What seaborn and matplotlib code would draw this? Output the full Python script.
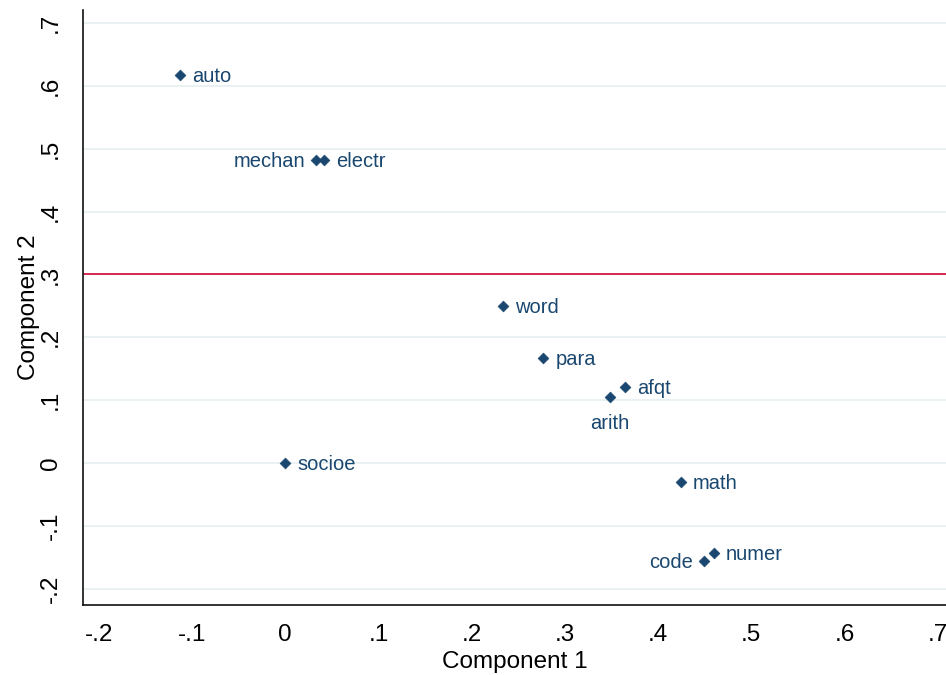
import matplotlib
matplotlib.use("Agg")
import matplotlib.pyplot as plt
import seaborn as sns
import pandas as pd

# Data
variables = ["auto", "mechan", "electr", "word", "para", "afqt", "arith", "socioe", "math", "numer", "code"]
comp1 = [-0.113, 0.033, 0.042, 0.234, 0.277, 0.365, 0.348, 0.000, 0.425, 0.460, 0.449]
comp2 = [0.617, 0.482, 0.482, 0.250, 0.167, 0.121, 0.105, 0.000, -0.030, -0.143, -0.156]
label_pos = ["right", "left", "right", "right", "right", "right", "below", "right", "right", "right", "left"]
ref_line = 0.3
tick_vals = [-0.2, -0.1, 0, 0.1, 0.2, 0.3, 0.4, 0.5, 0.6, 0.7]
tick_labels = ["-.2", "-.1", "0", ".1", ".2", ".3", ".4", ".5", ".6", ".7"]

df = pd.DataFrame({"var": variables, "c1": comp1, "c2": comp2, "pos": label_pos})

sns.set_style("white")
plt.rcParams["font.family"] = ["Liberation Sans", "DejaVu Sans"]

navy = "#1a476f"
fig = plt.figure(figsize=(9.46, 6.75), dpi=100)
ax = fig.add_axes([83/946, 1 - 605/675, 1 - 83/946, (605 - 10)/675])

ax.axhline(ref_line, color="#d62a50", lw=1.4, zorder=2)
sns.scatterplot(data=df, x="c1", y="c2", marker="D", s=30, color=navy,
                edgecolor=navy, linewidth=0.5, ax=ax, zorder=3, legend=False)

for _, r in df.iterrows():
    if r["pos"] == "right":
        ax.annotate(r["var"], (r["c1"], r["c2"]), xytext=(8.5, -1), textcoords="offset points",
                    ha="left", va="center", fontsize=14.5, color=navy)
    elif r["pos"] == "left":
        ax.annotate(r["var"], (r["c1"], r["c2"]), xytext=(-8, -1), textcoords="offset points",
                    ha="right", va="center", fontsize=14.5, color=navy)
    else:
        ax.annotate(r["var"], (r["c1"], r["c2"]), xytext=(0, -12.5), textcoords="offset points",
                    ha="center", va="top", fontsize=14.5, color=navy)

ax.set_xlim(-0.217, 0.709)
ax.set_ylim(-0.226, 0.7207)
ax.set_xticks(tick_vals)
ax.set_xticklabels(tick_labels)
ax.set_yticks(tick_vals)
ax.set_yticklabels(tick_labels, rotation=90, va="center")
ax.yaxis.grid(True, color="#e8f0f2", lw=1.3)
ax.xaxis.grid(False)
ax.set_axisbelow(True)

for s in ["top", "right"]:
    ax.spines[s].set_visible(False)
for s in ["left", "bottom"]:
    ax.spines[s].set_color("#111111")
    ax.spines[s].set_linewidth(1.2)

ax.tick_params(axis="both", direction="out", length=6, width=1.1, color="#111111",
               labelsize=17.5, labelcolor="black")
ax.tick_params(axis="x", pad=8)
ax.tick_params(axis="y", pad=9)
ax.set_xlabel("Component 1", fontsize=17.5, labelpad=3, color="black")
ax.set_ylabel("Component 2", fontsize=17.5, labelpad=0, color="black")
ax.patch.set_alpha(0)

fig.savefig("out.png", dpi=100)
